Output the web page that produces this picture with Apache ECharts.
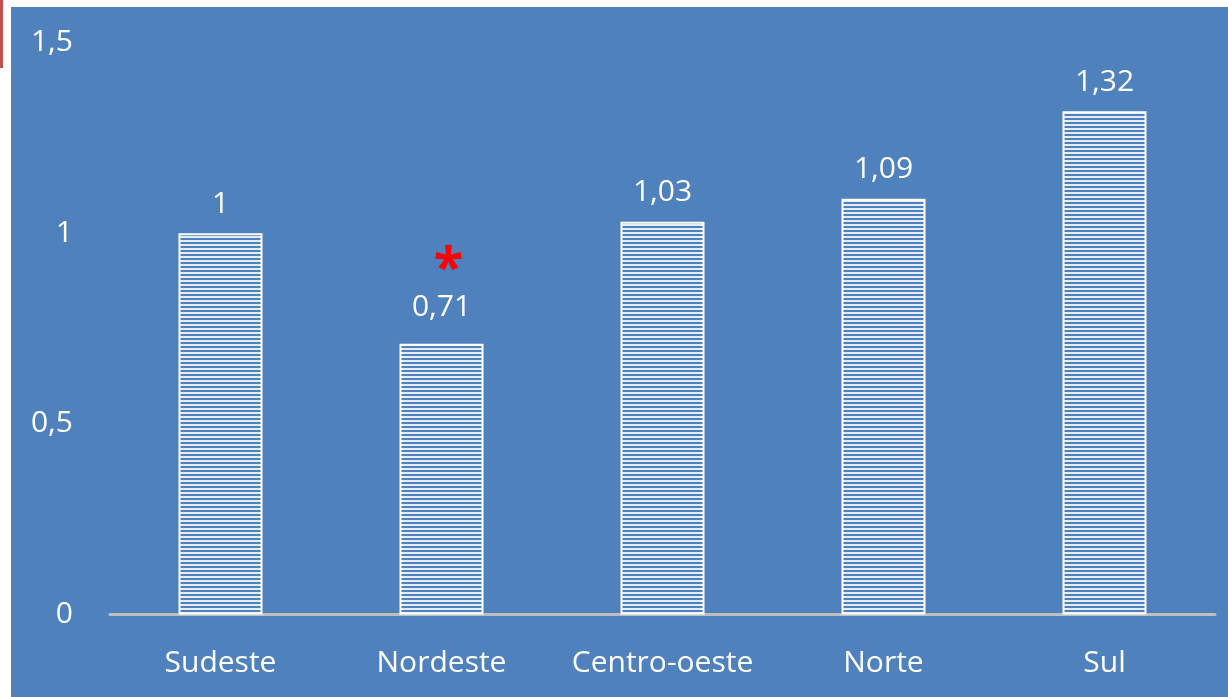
<!DOCTYPE html>
<html>
<head>
<meta charset="utf-8">
<script src="https://cdn.jsdelivr.net/npm/echarts@6/dist/echarts.min.js"></script>
<style>
html,body{margin:0;padding:0;background:#fff;}
#c{width:1228px;height:697px;}
</style>
</head>
<body>
<div id="c"></div>
<script>
const categories = ['Sudeste', 'Nordeste', 'Centro-oeste', 'Norte', 'Sul'];
const values = [1, 0.71, 1.03, 1.09, 1.32];
const yTicks = [0, 0.5, 1, 1.5];
const significant = [false, true, false, false, false];

const fmt = v => String(v).replace('.', ',');

// striped pattern
const pc = document.createElement('canvas');
pc.width = 8; pc.height = 4;
const pctx = pc.getContext('2d');
pctx.fillStyle = '#4f81bd';
pctx.fillRect(0, 0, 8, 4);
pctx.fillStyle = '#e4ecf6';
pctx.fillRect(0, 0, 8, 2);

const chart = echarts.init(document.getElementById('c'), null, {renderer: 'canvas'});
const FONT = 'Open Sans';
const FS = 30;
chart.setOption({
  backgroundColor: '#ffffff',
  animation: false,
  graphic: [
    {type: 'rect', z: -10, shape: {x: 11, y: 7, width: 1217, height: 690}, style: {fill: '#4f81bd'}},
    {type: 'rect', z: -10, shape: {x: 0, y: 0, width: 3, height: 68}, style: {fill: '#c0504d'}}
  ],
  grid: {left: 110, right: 13, top: 42.5, bottom: 82.5},
  xAxis: {
    type: 'category',
    data: categories,
    axisLine: {lineStyle: {color: '#bfbfbf', width: 3}},
    axisTick: {show: false},
    axisLabel: {color: '#fff', fontSize: FS, fontFamily: FONT, margin: 34, interval: 0, hideOverlap: false}
  },
  yAxis: {
    type: 'value',
    min: 0, max: 1.5, interval: 0.5,
    splitLine: {show: false},
    axisLine: {show: false},
    axisTick: {show: false},
    axisLabel: {color: '#fff', fontSize: FS, fontFamily: FONT, margin: 37,
      formatter: v => yTicks.includes(v) ? fmt(v) : ''}
  },
  series: [{
    type: 'bar',
    barWidth: 84,
    data: values.map((v, i) => ({
      value: v,
      label: significant[i] ? {formatter: '{ast|*}\n{val|' + fmt(v) + '}'} : {}
    })),
    itemStyle: {
      color: {image: pc, repeat: 'repeat'},
      borderColor: '#ffffff',
      borderWidth: 2
    },
    label: {
      show: true,
      position: 'top',
      distance: 14,
      color: '#fff',
      fontSize: FS,
      fontFamily: FONT,
      formatter: p => fmt(p.value),
      rich: {
        ast: {color: '#ff0000', fontSize: 54, fontWeight: 'bold', fontFamily: FONT, padding: [0, 0, 0, 14], lineHeight: 30},
        val: {color: '#fff', fontSize: FS, fontFamily: FONT, lineHeight: 44}
      }
    }
  }]
});
</script>
</body>
</html>
